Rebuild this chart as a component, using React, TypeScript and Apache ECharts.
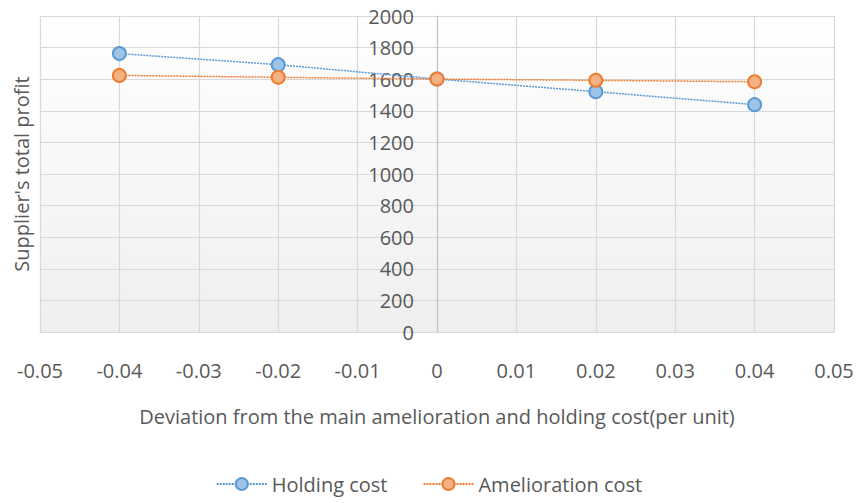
import React, { useEffect, useRef } from "react";
import * as echarts from "echarts";

const xValues = [-0.04, -0.02, 0, 0.02, 0.04];
const holdingCost = [1762, 1692, 1601, 1521, 1439];
const ameliorationCost = [1624, 1612, 1601, 1593, 1584];
const seriesNames = ["Holding cost", "Amelioration cost"];
const xMin = -0.05, xMax = 0.05, xStep = 0.01;
const yMin = 0, yMax = 2000, yStep = 200;
const xTitle = "Deviation from the main amelioration and holding cost(per unit)";
const yTitle = "Supplier's total profit";

const FONT = "'Open Sans', sans-serif";
const TXT = "#595959";
const GRID_LEFT = 40;
const Y_TITLE_X = 22;

export default function App() {
  const ref = useRef<HTMLDivElement>(null);
  useEffect(() => {
    if (!ref.current) return;
    const chart = echarts.init(ref.current, null, { renderer: "svg" });
    const mk = (ys: number[]) => xValues.map((x, i) => [x, ys[i]]);
    chart.setOption({
      animation: false,
      backgroundColor: "#ffffff",
      textStyle: { fontFamily: FONT },
      grid: {
        left: GRID_LEFT,
        right: 24,
        top: 16,
        bottom: 171,
        containLabel: false,
        outerBoundsMode: "none",
        show: true,
        borderWidth: 0,
        backgroundColor: new echarts.graphic.LinearGradient(0, 0, 0, 1, [
          { offset: 0, color: "#ffffff" },
          { offset: 1, color: "#efefef" },
        ]),
      },
      legend: {
        bottom: 4,
        left: "center",
        itemWidth: 50,
        itemHeight: 15,
        itemGap: 35,
        textStyle: { fontFamily: FONT, fontSize: 20, color: TXT },
        data: seriesNames,
      },
      xAxis: {
        type: "value",
        min: xMin,
        max: xMax,
        interval: xStep,
        axisLine: { show: true, onZero: false, lineStyle: { color: "#d9d9d9", width: 1.2 } },
        axisTick: { show: false },
        axisLabel: {
          margin: 28,
          fontFamily: FONT,
          fontSize: 20,
          color: TXT,
          hideOverlap: false,
          formatter: (v: number) => String(Math.round(v * 100) / 100),
        },
        splitLine: { show: true, lineStyle: { color: "#d9d9d9", width: 1.2 } },
        name: xTitle,
        nameLocation: "middle",
        nameGap: 74,
        nameTextStyle: { fontFamily: FONT, fontSize: 20, color: TXT },
      },
      yAxis: {
        type: "value",
        min: yMin,
        max: yMax,
        interval: yStep,
        axisLine: { show: true, onZero: true, lineStyle: { color: "#c4c4c4", width: 1.2 } },
        axisTick: { show: false },
        axisLabel: {
          margin: 23,
          fontFamily: FONT,
          fontSize: 20,
          color: TXT,
          formatter: (v: number) => String(v),
        },
        splitLine: { show: true, lineStyle: { color: "#d9d9d9", width: 1.2 } },
        name: yTitle,
        nameLocation: "middle",
        nameGap: 10,
        nameTextStyle: { fontFamily: FONT, fontSize: 20, color: TXT },
      },
      series: [
        {
          name: seriesNames[0],
          type: "line",
          data: mk(holdingCost),
          symbol: "circle",
          symbolSize: 13,
          lineStyle: { color: "#5b9bd5", width: 1.5, type: [2, 1] },
          itemStyle: { color: "#9dc3e6", borderColor: "#5b9bd5", borderWidth: 2 },
        },
        {
          name: seriesNames[1],
          type: "line",
          data: mk(ameliorationCost),
          symbol: "circle",
          symbolSize: 13,
          lineStyle: { color: "#ed7d31", width: 1.5, type: [2, 1] },
          itemStyle: { color: "#f4b183", borderColor: "#ed7d31", borderWidth: 2 },
        },
      ],
    });
    // place the value axis on x = 0 using the library's own x scale
    const zeroX = chart.convertToPixel({ xAxisIndex: 0 }, 0) as number;
    const offset = GRID_LEFT - zeroX;
    chart.setOption({
      yAxis: { offset, nameGap: zeroX - Y_TITLE_X - 9 },
    });
    return () => chart.dispose();
  }, []);
  return <div ref={ref} style={{ width: 858, height: 503, position: "absolute", left: 0, top: 0 }} />;
}
